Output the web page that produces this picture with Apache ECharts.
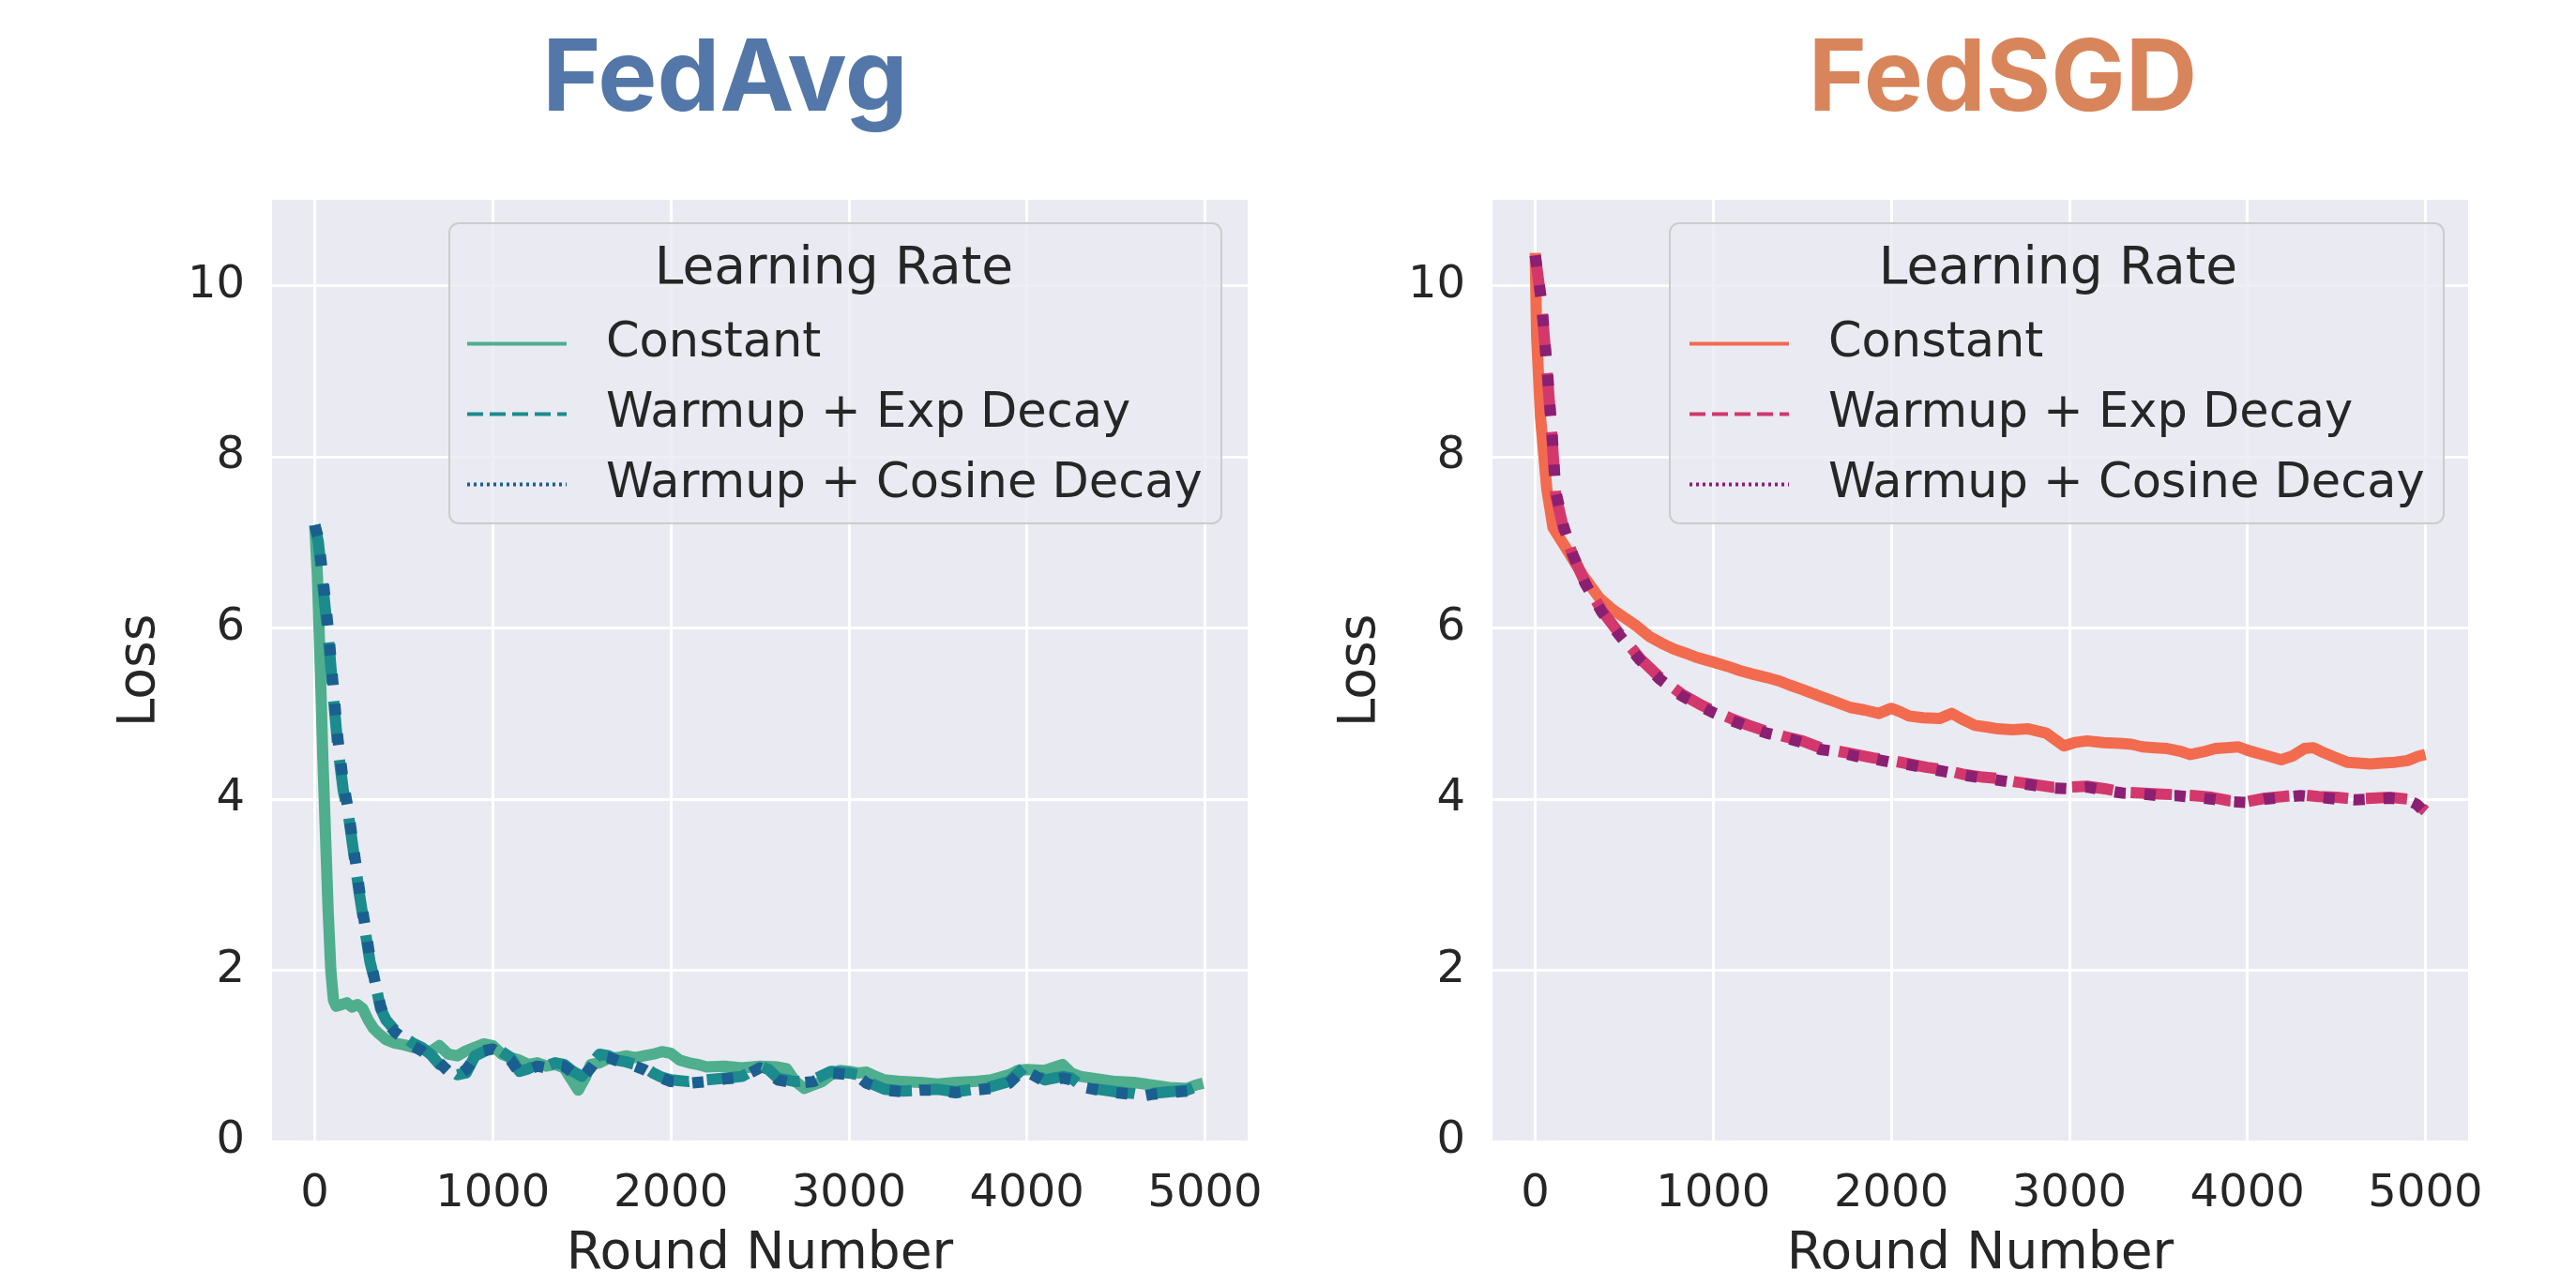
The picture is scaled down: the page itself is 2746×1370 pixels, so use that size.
<!DOCTYPE html>
<html>
<head>
<meta charset="utf-8">
<title>FedAvg / FedSGD loss</title>
<script src="https://cdn.jsdelivr.net/npm/echarts@6/dist/echarts.min.js"></script>
<style>
  html, body { margin: 0; padding: 0; background: #ffffff; }
  #wrap { display: flex; width: 2746px; height: 1370px; }
  .panel { width: 1373px; height: 1370px; }
</style>
</head>
<body>
<div id="wrap">
  <div class="panel" id="fedAvgBox"></div>
  <div class="panel" id="fedSgdBox"></div>
</div>
<script>
// ---- data ----
const seriesNames = ['Constant', 'Warmup + Exp Decay', 'Warmup + Cosine Decay'];
const yTicks = [0, 2, 4, 6, 8, 10];

// FedAvg
const avgConstRounds = [0, 15, 30, 45, 60, 75, 90, 105, 120, 150, 180, 210, 240, 270, 300, 330, 360,
  400, 450, 500, 550, 600, 650, 700, 750, 800, 850, 900, 950, 1000,
  1050, 1100, 1150, 1200, 1250, 1300, 1350, 1400, 1450, 1480, 1520, 1550, 1600,
  1650, 1700, 1750, 1800, 1850, 1900, 1950, 2000,
  2050, 2100, 2150, 2200, 2300, 2400, 2500, 2600, 2650, 2700, 2750, 2800, 2850, 2900, 2950, 3000,
  3050, 3100, 3150, 3200, 3300, 3400, 3500, 3600, 3700, 3800, 3900, 3950, 4000,
  4100, 4200, 4250, 4300, 4400, 4500, 4600, 4700, 4800, 4900, 4950, 4990];
const avgConstLoss = [7.2, 6.6, 5.6, 4.5, 3.6, 2.7, 2.0, 1.65, 1.58, 1.6, 1.62, 1.57, 1.6, 1.55, 1.42, 1.32, 1.26,
  1.19, 1.15, 1.13, 1.1, 1.08, 1.05, 1.12, 1.02, 1.0, 1.06, 1.1, 1.14, 1.12,
  1.02, 0.98, 0.95, 0.9, 0.92, 0.88, 0.9, 0.86, 0.7, 0.6, 0.75, 0.9, 0.92,
  0.97, 0.98, 1.0, 0.98, 1.0, 1.02, 1.05, 1.03,
  0.95, 0.92, 0.9, 0.87, 0.88, 0.86, 0.88, 0.87, 0.85, 0.7, 0.62, 0.66, 0.7, 0.78, 0.83, 0.82,
  0.8, 0.81, 0.76, 0.72, 0.7, 0.69, 0.67, 0.69, 0.7, 0.72, 0.78, 0.83, 0.84,
  0.83, 0.9, 0.8, 0.76, 0.73, 0.7, 0.69, 0.66, 0.63, 0.62, 0.66, 0.68];

const avgWarmRounds = [0, 20, 40, 60, 80, 100, 130, 160, 190, 220, 250, 280, 310, 340, 370, 400,
  450, 500, 550, 600, 650, 700, 750, 800, 850, 900,
  950, 1000, 1050, 1100, 1150, 1200, 1250, 1300, 1350, 1400,
  1450, 1500, 1550, 1600, 1650, 1700, 1750, 1800, 1850, 1900, 1950, 2000,
  2100, 2200, 2300, 2400, 2500, 2550, 2600, 2700, 2800, 2900, 3000,
  3050, 3100, 3200, 3300, 3400, 3500, 3600, 3700, 3800, 3900,
  3980, 4050, 4100, 4200, 4250, 4300, 4400, 4500, 4600, 4650, 4700, 4800, 4900, 4950, 4990];
const avgExpLoss = [7.2, 7.0, 6.6, 6.2, 5.8, 5.3, 4.6, 4.1, 3.8, 3.35, 2.9, 2.5, 2.1, 1.85, 1.55, 1.42,
  1.3, 1.22, 1.15, 1.1, 1.02, 0.9, 0.85, 0.78, 0.8, 1.0,
  1.05, 1.1, 1.05, 0.98, 0.82, 0.85, 0.9, 0.88, 0.92, 0.9,
  0.82, 0.76, 0.9, 1.02, 1.0, 0.95, 0.93, 0.9, 0.87, 0.8, 0.75, 0.72,
  0.7, 0.72, 0.74, 0.76, 0.88, 0.84, 0.74, 0.7, 0.72, 0.82, 0.8,
  0.78, 0.7, 0.61, 0.59, 0.6, 0.61, 0.58, 0.61, 0.64, 0.7,
  0.86, 0.78, 0.72, 0.76, 0.74, 0.66, 0.61, 0.58, 0.56, 0.54, 0.56, 0.58, 0.6, 0.64, 0.65];
const avgCosLoss = [7.2, 7.05, 6.7, 6.3, 5.9, 5.4, 4.7, 4.2, 3.85, 3.4, 2.95, 2.55, 2.15, 1.85, 1.58, 1.4,
  1.28, 1.2, 1.12, 1.06, 0.98, 0.92, 0.82, 0.76, 0.84, 0.98,
  1.06, 1.08, 1.02, 0.95, 0.8, 0.84, 0.88, 0.86, 0.9, 0.88,
  0.8, 0.74, 0.86, 1.0, 0.98, 0.94, 0.9, 0.88, 0.84, 0.78, 0.74, 0.7,
  0.68, 0.7, 0.73, 0.75, 0.86, 0.82, 0.72, 0.68, 0.7, 0.8, 0.78,
  0.76, 0.68, 0.6, 0.58, 0.6, 0.6, 0.57, 0.6, 0.62, 0.68,
  0.84, 0.76, 0.7, 0.74, 0.72, 0.64, 0.6, 0.57, 0.55, 0.53, 0.55, 0.57, 0.59, 0.62, 0.64];

// FedSGD
const sgdConstRounds = [0, 8, 30, 65, 100, 170, 265, 360, 430, 500, 570, 640, 710, 780, 850,
  900, 1000, 1080, 1150, 1220, 1300, 1370, 1430, 1500, 1600, 1680, 1770, 1850, 1930, 2000,
  2050, 2100, 2180, 2270, 2340, 2400, 2470, 2540, 2600, 2680, 2770, 2870, 2930, 2970, 3030,
  3100, 3190, 3280, 3350, 3410, 3480, 3550, 3620, 3680, 3750, 3820, 3880, 3950, 4000, 4050,
  4120, 4190, 4250, 4320, 4370, 4420, 4490, 4560, 4620, 4690, 4760, 4830, 4900, 4960, 5000];
const sgdConstLoss = [10.38, 9.4, 8.45, 7.62, 7.17, 6.94, 6.62, 6.35, 6.22, 6.12, 6.02, 5.9, 5.82, 5.75, 5.7,
  5.66, 5.6, 5.55, 5.5, 5.46, 5.42, 5.38, 5.33, 5.28, 5.2, 5.14, 5.07, 5.04, 5.0, 5.06,
  5.02, 4.97, 4.95, 4.94, 5.0, 4.93, 4.86, 4.84, 4.82, 4.81, 4.82, 4.77, 4.68, 4.62, 4.66,
  4.68, 4.66, 4.65, 4.64, 4.61, 4.6, 4.59, 4.56, 4.52, 4.55, 4.59, 4.6, 4.61, 4.57, 4.54,
  4.5, 4.46, 4.5, 4.59, 4.6, 4.55, 4.49, 4.43, 4.42, 4.41, 4.42, 4.43, 4.45, 4.5, 4.52];

const sgdWarmRounds = [0, 35, 70, 95, 115, 160, 210, 280, 375, 470, 590, 700, 820, 940, 1000,
  1100, 1200, 1300, 1400, 1500, 1600, 1700, 1800, 1900, 2000,
  2100, 2200, 2300, 2400, 2500, 2600, 2700, 2800, 2900, 3000,
  3100, 3200, 3300, 3400, 3500, 3600, 3700, 3800, 3900, 4000,
  4100, 4200, 4300, 4400, 4500, 4600, 4700, 4800, 4900, 4950, 5000];
const sgdExpLoss = [10.35, 9.8, 8.9, 8.2, 7.55, 7.15, 6.85, 6.53, 6.2, 5.94, 5.64, 5.42, 5.23, 5.09, 5.03,
  4.94, 4.86, 4.79, 4.73, 4.68, 4.6, 4.56, 4.52, 4.48, 4.45,
  4.41, 4.37, 4.34, 4.29, 4.26, 4.24, 4.2, 4.17, 4.14, 4.14,
  4.15, 4.12, 4.08, 4.07, 4.06, 4.05, 4.04, 4.02, 3.98, 3.97,
  4.01, 4.03, 4.05, 4.03, 4.02, 4.0, 4.01, 4.02, 4.0, 3.95, 3.86];
const sgdCosLoss = [10.35, 9.82, 8.95, 8.25, 7.6, 7.18, 6.86, 6.52, 6.18, 5.92, 5.62, 5.4, 5.21, 5.07, 5.01,
  4.92, 4.84, 4.77, 4.72, 4.66, 4.58, 4.55, 4.5, 4.47, 4.43,
  4.4, 4.36, 4.32, 4.28, 4.25, 4.22, 4.19, 4.16, 4.13, 4.12,
  4.14, 4.1, 4.07, 4.06, 4.04, 4.04, 4.02, 4.0, 3.97, 3.96,
  4.0, 4.02, 4.04, 4.02, 4.0, 3.99, 4.0, 4.01, 3.99, 3.94, 3.84];

// ---- styling ----
const FONT = '"DejaVu Sans", sans-serif';
const INK = '#262626';
const lineTypes = ['solid', [44, 19], [12, 20]];      // matplotlib '-', '--', ':' at lw 12
const legendTypes = ['solid', [17, 7], [3, 4]];

function zipPairs(xs, ys) {
  return xs.map((x, i) => [x, ys[i]]);
}

function buildPanel(domId, cfg) {
  const chart = echarts.init(document.getElementById(domId));
  const series = cfg.data.map((pairs, i) => ({
    name: seriesNames[i],
    type: 'line',
    data: pairs,
    symbol: 'none',
    showSymbol: false,
    z: 2 + i,
    itemStyle: { color: cfg.colors[i] },
    lineStyle: { color: cfg.colors[i], width: 12, type: lineTypes[i], join: 'round', cap: 'butt' },
    emphasis: { disabled: true }
  }));

  const option = {
    animation: false,
    graphic: [
      {
        type: 'text', z: 30, x: cfg.titleX, y: 86,
        style: {
          text: cfg.title, font: 'bold 106px Inter, sans-serif', fill: cfg.titleColor,
          align: 'center', textAlign: 'center', verticalAlign: 'middle', textVerticalAlign: 'middle'
        }
      },
      {
        type: 'rect', z: 10,
        shape: { x: cfg.box[0], y: 238, width: cfg.box[1] - cfg.box[0], height: 320, r: 10 },
        style: { fill: 'rgba(234,234,242,0.8)', stroke: '#cccccc', lineWidth: 2 }
      },
      {
        type: 'text', z: 30, x: cfg.legendTitleX, y: 288,
        style: {
          text: 'Learning Rate', font: '55px ' + FONT, fill: INK,
          align: 'center', textAlign: 'center', verticalAlign: 'middle', textVerticalAlign: 'middle'
        }
      }
    ],
    grid: {
      left: cfg.gridLeft, top: 213, width: 1040, height: 1010,
      show: true, backgroundColor: '#eaeaf2', borderWidth: 0
    },
    legend: {
      orient: 'vertical', left: cfg.legendLeft, top: 341, padding: 0, z: 20,
      itemWidth: 106, itemHeight: 14, itemGap: 24,
      selectedMode: false,
      itemStyle: { opacity: 0 },
      textStyle: { fontFamily: FONT, fontSize: 51, color: INK, padding: [0, 0, 0, 37] },
      data: seriesNames.map((n, i) => ({ name: n, lineStyle: { width: 4, type: legendTypes[i] } }))
    },
    xAxis: {
      type: 'value', min: -240, max: 5240,
      name: 'Round Number', nameLocation: 'middle', nameGap: 93,
      nameTextStyle: { fontFamily: FONT, fontSize: 55, color: INK },
      axisLine: { show: false }, axisTick: { show: false },
      axisLabel: {
        showMinLabel: false, showMaxLabel: false, margin: 33,
        fontFamily: FONT, fontSize: 48, color: INK,
        formatter: (v) => v.toFixed(0)
      },
      splitLine: { show: true, showMinLine: false, showMaxLine: false, lineStyle: { color: '#ffffff', width: 3 } }
    },
    yAxis: {
      type: 'value', min: 0, max: 11, interval: 2,
      name: 'Loss', nameLocation: 'middle', nameGap: 113,
      nameTextStyle: { fontFamily: FONT, fontSize: 55, color: INK },
      axisLine: { show: false }, axisTick: { show: false },
      axisLabel: {
        showMaxLabel: false, margin: 29,
        fontFamily: FONT, fontSize: 48, color: INK,
        formatter: (v) => (yTicks.indexOf(v) >= 0 ? String(v) : '')
      },
      splitLine: { show: true, showMaxLine: false, lineStyle: { color: '#ffffff', width: 3 } }
    },
    series: series
  };
  chart.setOption(option);
  return chart;
}

buildPanel('fedAvgBox', {
  title: 'FedAvg', titleColor: '#5377a8', titleX: 773,
  gridLeft: 290, box: [479, 1302], legendTitleX: 889, legendLeft: 496,
  colors: ['#4fae8d', '#1b8b8d', '#1a5f8f'],
  data: [
    zipPairs(avgConstRounds, avgConstLoss),
    zipPairs(avgWarmRounds, avgExpLoss),
    zipPairs(avgWarmRounds, avgCosLoss)
  ]
});

buildPanel('fedSgdBox', {
  title: 'FedSGD', titleColor: '#d8855b', titleX: 762,
  gridLeft: 218, box: [407, 1232], legendTitleX: 821, legendLeft: 426,
  colors: ['#f26b4f', '#d2386c', '#8b1f72'],
  data: [
    zipPairs(sgdConstRounds, sgdConstLoss),
    zipPairs(sgdWarmRounds, sgdExpLoss),
    zipPairs(sgdWarmRounds, sgdCosLoss)
  ]
});
</script>
</body>
</html>
